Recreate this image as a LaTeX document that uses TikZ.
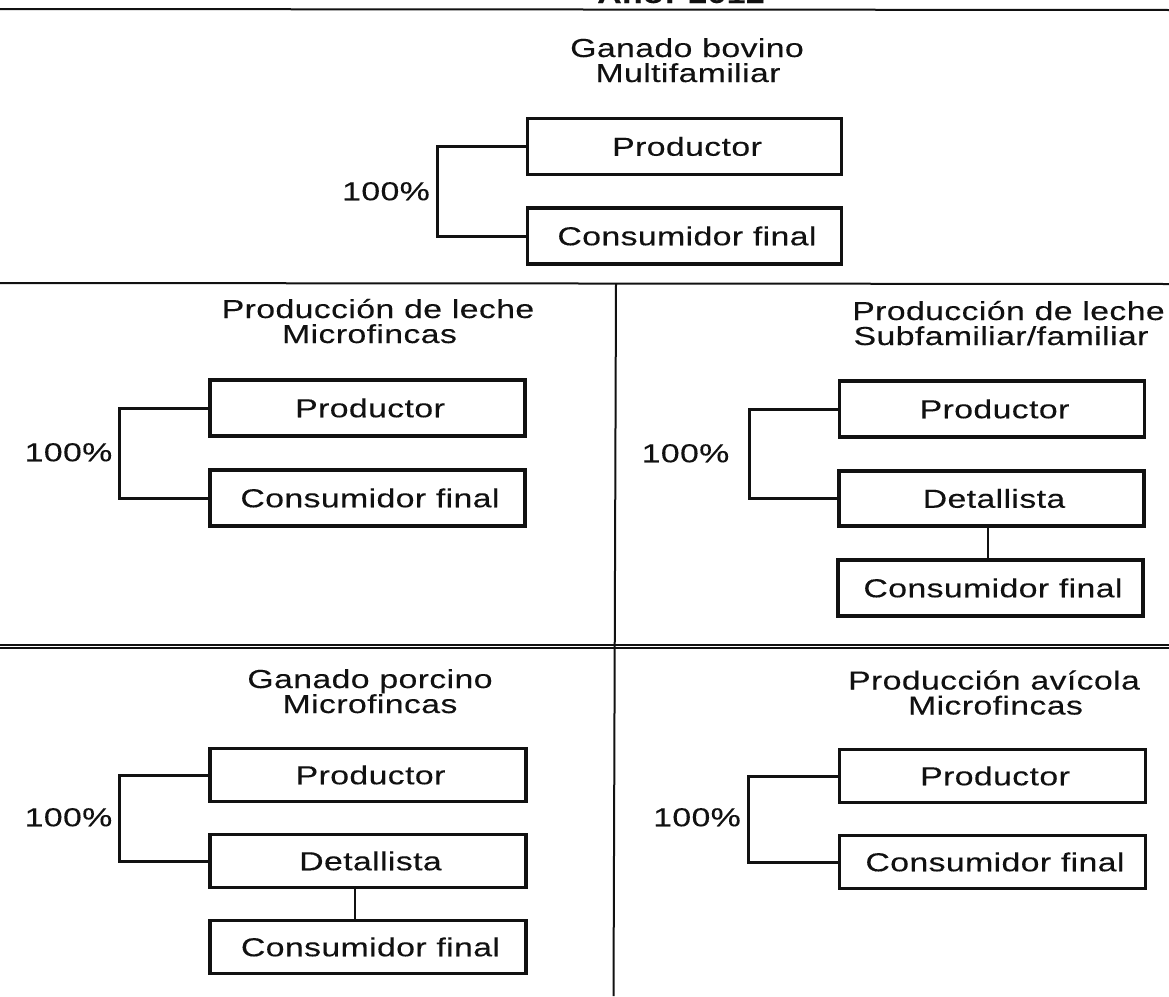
\documentclass[tikz,border=0pt]{standalone}
\usepackage{fontspec}
\setmainfont{Liberation Sans}[LetterSpace=1.5,FakeStretch=1.3,FakeBold=0.2]
\definecolor{ink}{HTML}{111111}
\newcommand{\labelsize}{\fontsize{26}{26}\selectfont}
\tikzset{
  box/.style={draw=ink,line width=3.6pt,inner sep=0pt,fill=white,text=ink,font=\labelsize,
    text height=18.5pt,text depth=0pt,execute at begin node=\hspace*{5pt}},
  link/.style={draw=ink,line width=3pt,line join=miter},
  stem/.style={draw=ink,line width=2.4pt},
  rule/.style={draw=ink,line width=2pt},
  caption/.style={inner sep=0pt,anchor=base,text=ink,font=\labelsize},
  pct/.style={inner sep=0pt,text=ink,font=\labelsize,text height=18.5pt,text depth=0pt}
}
\begin{document}
\begin{tikzpicture}[x=1pt,y=-1pt]
\useasboundingbox (0,0) rectangle (1169,996);
\clip (0,0) rectangle (1169,996);
\fill[white] (0,0) rectangle (1169,996);
% frame rules
\coordinate (r1a) at (0,9); \coordinate (r1b) at (1169,10);
\coordinate (r2a) at (0,283); \coordinate (r2b) at (1169,284);
\coordinate (r3a) at (0,645); \coordinate (r3b) at (1169,645);
\coordinate (r4a) at (0,648); \coordinate (r4b) at (1169,648);
\coordinate (vt) at (616,283); \coordinate (vb) at (613.5,996);
\draw[rule] (r1a) -- (r1b);
\draw[rule] (r2a) -- (r2b);
\draw[rule] (r3a) -- (r3b);
\draw[rule] (r4a) -- (r4b);
\draw[rule] (vt) -- (vb);
\node[caption,font=\bfseries\labelsize] (title) at (681,3) {Año: 2012};
% top panel
\node[caption] (c1a) at (687,57) {Ganado bovino};
\node[caption] (c1b) at (688,82) {Multifamiliar};
\node[box,minimum width=314pt,minimum height=56pt] (a1) at (684.5,146.5) {Productor};
\node[box,minimum width=314pt,minimum height=56pt] (a2) at (684.5,236) {Consumidor final};
\draw[link] (a1.west) -- ++(-88.5,0) |- (a2.west);
\node[pct] (p1) at (386,191) {100\%};
% middle left
\node[caption] (c2a) at (378,318) {Producción de leche};
\node[caption] (c2b) at (369.5,343) {Microfincas};
\node[box,minimum width=315pt,minimum height=55.5pt] (b1) at (367.5,408) {Productor};
\node[box,minimum width=315pt,minimum height=55.5pt] (b2) at (367.5,498) {Consumidor final};
\draw[link] (b1.west) -- ++(-88.5,0) |- (b2.west);
\node[pct] (p2) at (68.5,452) {100\%};
% middle right
\node[caption] (c3a) at (1008.5,320) {Producción de leche};
\node[caption] (c3b) at (1001,345) {Subfamiliar/familiar};
\node[box,minimum width=305pt,minimum height=55.5pt] (d1) at (992,409) {Productor};
\node[box,minimum width=305pt,minimum height=55.5pt] (d2) at (991.5,498.5) {Detallista};
\node[box,minimum width=305pt,minimum height=55.5pt] (d3) at (990.5,588) {Consumidor final};
\draw[link] (d1.west) -- ++(-88,0) |- (d2.west);
\coordinate (s3) at (988,0);
\draw[stem] (d2.south -| s3) -- (d3.north -| s3);
\node[pct] (p3) at (685.5,453) {100\%};
% bottom left
\node[caption] (c4a) at (370,688) {Ganado porcino};
\node[caption] (c4b) at (370,713) {Microfincas};
\node[box,minimum width=316pt,minimum height=53pt] (e1) at (368,775) {Productor};
\node[box,minimum width=316pt,minimum height=53pt] (e2) at (368,861) {Detallista};
\node[box,minimum width=316pt,minimum height=53pt] (e3) at (368,947) {Consumidor final};
\coordinate (s4) at (355,0);
\draw[link] (e1.west) -- ++(-88.5,0) |- (e2.west);
\draw[stem] (e2.south -| s4) -- (e3.north -| s4);
\node[pct] (p4) at (68.5,817) {100\%};
% bottom right
\node[caption] (c5a) at (994,689.5) {Producción avícola};
\node[caption] (c5b) at (995.5,714.5) {Microfincas};
\node[box,minimum width=306pt,minimum height=53pt] (f1) at (992.5,776) {Productor};
\node[box,minimum width=306pt,minimum height=53pt] (f2) at (992.5,862) {Consumidor final};
\draw[link] (f1.west) -- ++(-89.5,0) |- (f2.west);
\node[pct] (p5) at (697,817) {100\%};
\end{tikzpicture}
\end{document}
